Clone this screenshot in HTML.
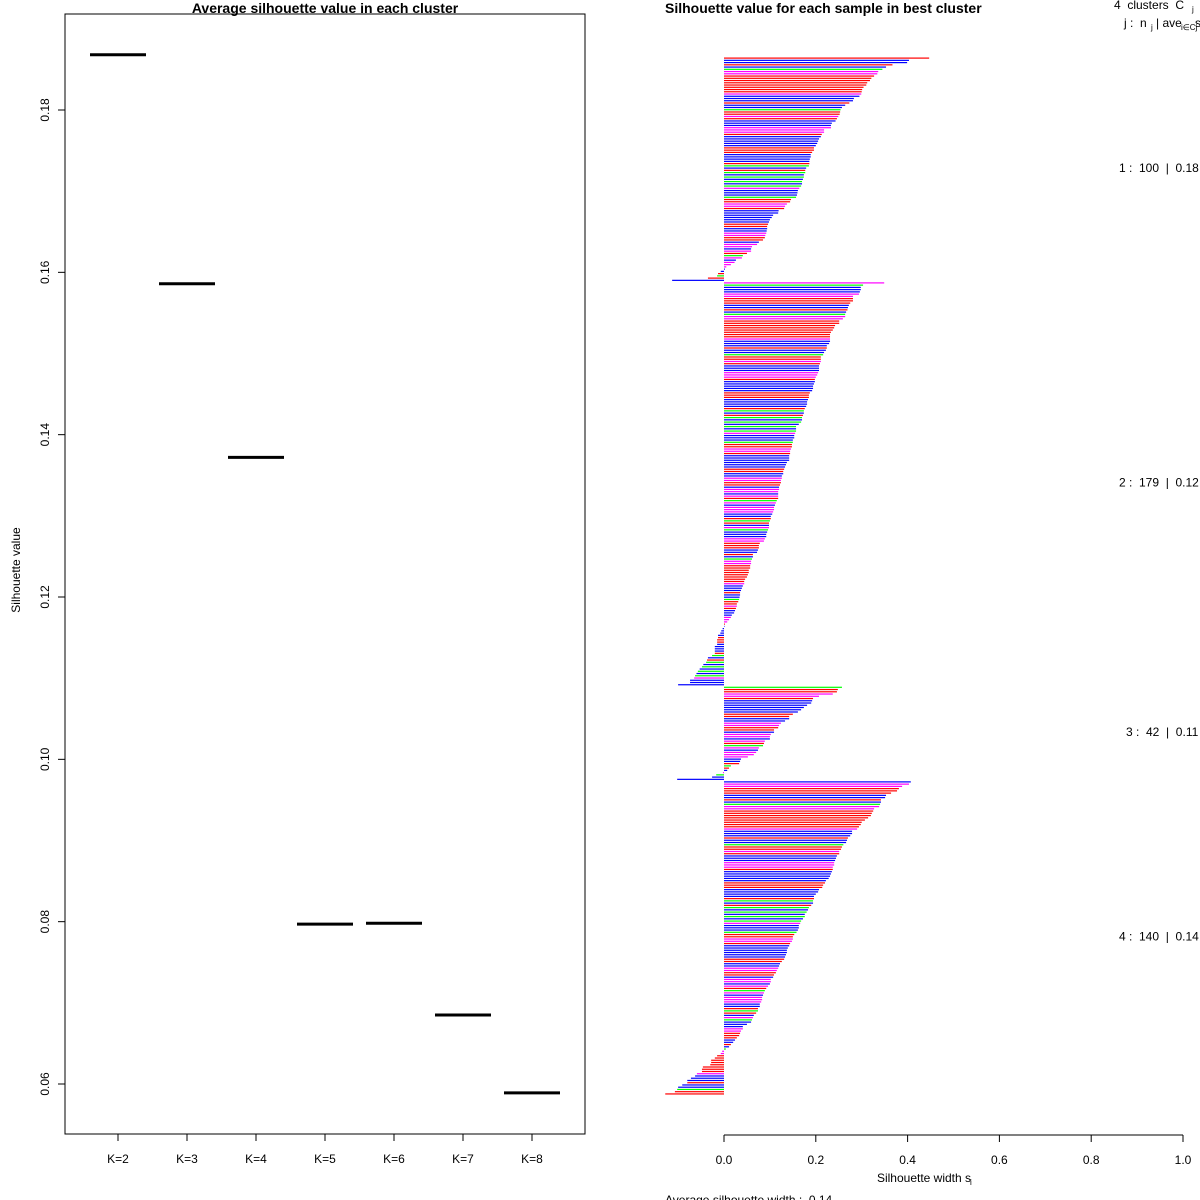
<!DOCTYPE html>
<html><head><meta charset="utf-8"><style>
html,body{margin:0;padding:0;background:#fff;}
svg{display:block;font-family:"Liberation Sans",sans-serif;}
text{white-space:pre;}
</style></head><body>
<svg id="chart" width="1200" height="1200" viewBox="0 0 1200 1200"></svg>
<script>
// ---- Left chart data ----
const kLabels = ["K=2","K=3","K=4","K=5","K=6","K=7","K=8"];
const avgSil = [0.1868,0.1586,0.1372,0.0797,0.0798,0.0685,0.0589];
const yTicks = [0.06,0.08,0.10,0.12,0.14,0.16,0.18];
const yTickLabels = ["0.06","0.08","0.10","0.12","0.14","0.16","0.18"];
// ---- Right chart data ----
const cluster1 = [.447,.403,.399,.367,.353,.345,.336,.334,.327,.321,.318,.312,.310,.304,.301,.300,.299,.295,.283,.281,.273,.264,.257,.254,.253,.252,.249,.246,.243,.235,.233,.233,.218,.218,.213,.211,.207,.205,.203,.200,.196,.196,.192,.189,.189,.187,.186,.186,.185,.179,.177,.177,.174,.174,.172,.170,.170,.168,.164,.161,.160,.159,.157,.146,.144,.137,.133,.131,.119,.118,.107,.104,.100,.098,.096,.094,.094,.093,.092,.090,.089,.085,.076,.072,.061,.059,.059,.050,.041,.039,.026,.023,.015,.005,.002,-.007,-.013,-.015,-.035,-.113];
const cluster2 = [.349,.303,.298,.298,.296,.294,.281,.281,.281,.275,.272,.270,.269,.266,.264,.264,.259,.251,.251,.242,.240,.237,.233,.231,.231,.231,.231,.229,.224,.224,.222,.218,.216,.211,.211,.211,.209,.207,.207,.207,.205,.203,.200,.198,.198,.196,.194,.194,.192,.187,.185,.185,.183,.181,.181,.179,.176,.174,.174,.172,.170,.170,.168,.163,.157,.157,.157,.155,.153,.153,.150,.150,.148,.148,.146,.144,.144,.142,.142,.142,.137,.135,.133,.131,.129,.129,.126,.126,.124,.124,.122,.120,.120,.118,.118,.118,.118,.115,.113,.111,.109,.109,.107,.105,.102,.102,.100,.098,.098,.098,.096,.094,.092,.092,.089,.087,.078,.076,.076,.074,.072,.063,.063,.061,.059,.059,.057,.057,.054,.054,.052,.050,.046,.044,.044,.041,.039,.037,.035,.035,.034,.033,.031,.028,.028,.026,.024,.022,.017,.015,.011,.007,.002,.001,-.003,-.006,-.008,-.013,-.013,-.015,-.015,-.015,-.020,-.020,-.020,-.020,-.026,-.035,-.037,-.039,-.045,-.048,-.053,-.057,-.060,-.063,-.065,-.074,-.074,-.100];
const cluster3 = [.257,.248,.246,.237,.207,.194,.192,.190,.181,.174,.168,.161,.150,.142,.142,.133,.124,.120,.118,.109,.109,.102,.100,.100,.089,.087,.085,.076,.074,.070,.065,.052,.037,.035,.033,.015,.011,.007,-.002,-.017,-.026,-.102];
const cluster4 = [.407,.403,.388,.381,.377,.364,.353,.351,.342,.342,.340,.338,.327,.325,.322,.320,.314,.307,.300,.298,.294,.290,.279,.279,.275,.270,.268,.266,.260,.257,.255,.251,.251,.246,.244,.242,.240,.240,.237,.237,.235,.233,.231,.228,.222,.220,.216,.214,.207,.205,.200,.196,.196,.194,.194,.190,.185,.183,.180,.176,.176,.172,.168,.166,.163,.163,.161,.158,.153,.150,.150,.148,.144,.142,.139,.137,.137,.135,.133,.131,.126,.122,.120,.118,.115,.113,.109,.107,.102,.102,.100,.096,.092,.089,.087,.085,.083,.083,.081,.078,.078,.074,.074,.070,.065,.063,.061,.059,.050,.041,.041,.037,.035,.033,.028,.024,.020,.015,.011,.004,-.004,-.007,-.015,-.020,-.028,-.028,-.030,-.046,-.048,-.048,-.059,-.063,-.072,-.080,-.080,-.091,-.100,-.102,-.107,-.128];
const clusterSizes = ["100","179","42","140"];
const clusterAvgs = ["0.18","0.12","0.11","0.14"];
const xTicks = [0,0.2,0.4,0.6,0.8,1.0];
const xTickLabels = ["0.0","0.2","0.4","0.6","0.8","1.0"];
const colorSeq = "rbbrbgmmrrrrrrrrmbbbrbbgrrmrbbbmmmrbbbbbrrrbbbbrgbrgbgbgbgmbbbgrrmmrbbbbbbrrbbmmrrbmmbmrgmbmmmbbrgrbmgbbbmmrr";

const NS = "http://www.w3.org/2000/svg";
const svg = document.getElementById("chart");
function mk(tag, attrs, parent){ const e=document.createElementNS(NS,tag); for(const k in attrs) e.setAttribute(k,attrs[k]); (parent||svg).appendChild(e); return e; }
const colMap = {r:"#ff0000",b:"#0000ff",g:"#00ff00",m:"#ff00ff",k:"#000000"};

// ===== Left plot =====
const L = {x0:65,x1:585,y0:14,y1:1134};
const yL = v => 110 + (0.18 - v) * 8116.7;
const xL = i => 118 + i * 69;
let g = mk("g",{});


let box = mk("rect",{x:L.x0,y:L.y0,width:L.x1-L.x0,height:L.y1-L.y0,fill:"none",stroke:"#000","stroke-width":1},g);


let t = mk("text",{x:325,y:13,"text-anchor":"middle","font-size":"14","font-weight":"bold"},g);
t.textContent="Average silhouette value in each cluster";


t = mk("text",{x:0,y:0,"text-anchor":"middle","font-size":"12",transform:"translate(20,570) rotate(-90)"},g);
t.textContent="Silhouette value";


yTicks.forEach((v,i)=>{
  const y=yL(v);
  const tk=mk("line",{x1:58,x2:65,y1:y,y2:y,stroke:"#000"},g);
  
  
  const lb=mk("text",{x:0,y:0,"text-anchor":"middle","font-size":"12",transform:`translate(49,${y}) rotate(-90)`},g);
  lb.textContent=yTickLabels[i];
  
  
});
kLabels.forEach((k,i)=>{
  const x=xL(i);
  const tk=mk("line",{x1:x,x2:x,y1:1134,y2:1141,stroke:"#000"},g);
  
  
  const lb=mk("text",{x:x,y:1163,"text-anchor":"middle","font-size":"12"},g);
  lb.textContent=k;
  
  
  const seg=mk("line",{x1:x-28,x2:x+28,y1:yL(avgSil[i]),y2:yL(avgSil[i]),stroke:"#000","stroke-width":3},g);
  
  
});

// ===== Right plot =====
const x0R = 724, unitR = 459;
const xR = v => x0R + v*unitR;
const step = 2.245, barH = 1.2;
let gR = mk("g",{});


t = mk("text",{x:665,y:13,"font-size":"14","font-weight":"bold"},gR);
t.textContent="Silhouette value for each sample in best cluster";


t = mk("text",{x:1114,y:9,"font-size":"12"},gR);
t.textContent="4  clusters  C";


t = mk("text",{x:1192,y:12,"font-size":"8"},gR);
t.textContent="j";


t = mk("text",{x:1124,y:27,"font-size":"12"},gR);
t.textContent="j :  n";


t = mk("text",{x:1151,y:30,"font-size":"8"},gR);
t.textContent="j";


t = mk("text",{x:1156,y:27,"font-size":"12"},gR);
t.textContent="| ave";


t = mk("text",{x:1181,y:30,"font-size":"8"},gR);
t.textContent="i∈Cj";


t = mk("text",{x:1195,y:27,"font-size":"12"},gR);
t.textContent="s";


const clusters=[cluster1,cluster2,cluster3,cluster4];
const labelX=[1119,1119,1126,1119];
let row=0, yStart=57.5, ci=0;
clusters.forEach((cl,c)=>{
  const top=yStart+row*step+c*0.3;
  cl.forEach((v,j)=>{
    const y=yStart+(row+j)*step+c*0.3;
    const col=colMap[colorSeq[(ci++)%colorSeq.length]];
    const xa=Math.min(xR(0),xR(v)), w=Math.abs(xR(v)-xR(0));
    const b=mk("rect",{x:xa,y:y,width:Math.max(w,0.5),height:barH,fill:col},gR);
    
    
  });
  const mid=top+cl.length*step/2;
  const lb=mk("text",{x:labelX[c],y:mid+2,"font-size":"12"},gR);
  lb.textContent=`${c+1} :  ${clusterSizes[c]}  |  ${clusterAvgs[c]}`;
  
  
  row+=cl.length;
});
let ax=mk("line",{x1:xR(0),x2:xR(1),y1:1135,y2:1135,stroke:"#000"},gR);


xTicks.forEach((v,i)=>{
  const x=xR(v);
  const tk=mk("line",{x1:x,x2:x,y1:1135,y2:1142,stroke:"#000"},gR);
  
  
  const lb=mk("text",{x:x,y:1164,"text-anchor":"middle","font-size":"12"},gR);
  lb.textContent=xTickLabels[i];
  
  
});
t=mk("text",{x:924,y:1182,"text-anchor":"middle","font-size":"12"},gR);
t.textContent="Silhouette width s";


t=mk("text",{x:970,y:1185,"font-size":"8"},gR);
t.textContent="i";


t=mk("text",{x:665,y:1204,"font-size":"12"},gR);
t.textContent="Average silhouette width :  0.14";


</script>
</body></html>
